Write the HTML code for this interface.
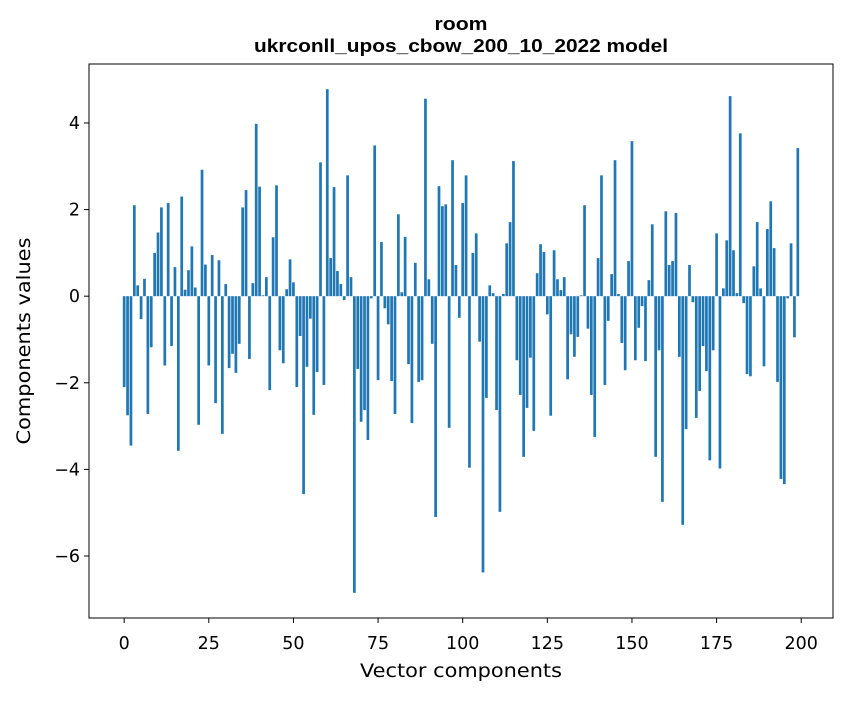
<!DOCTYPE html>
<html><head><meta charset="utf-8"><style>
body{margin:0;background:#fff;}
svg text{font-family:"DejaVu Sans","Liberation Sans",sans-serif;fill:#000;}
svg text.title{font-family:"Liberation Sans","DejaVu Sans",sans-serif;font-weight:bold;}
</style></head><body>
<svg id="chart" width="847" height="696" xmlns="http://www.w3.org/2000/svg">
<rect width="847" height="696" fill="#fff"/>
<text class="title" x="461" y="30" text-anchor="middle" font-size="18" textLength="53" lengthAdjust="spacingAndGlyphs">room</text>
<text class="title" x="461" y="52" text-anchor="middle" font-size="18" textLength="414" lengthAdjust="spacingAndGlyphs">ukrconll_upos_cbow_200_10_2022 model</text>
<g id="bars"></g>
<g id="axes"></g>
<text x="461" y="677" text-anchor="middle" font-size="19" textLength="202" lengthAdjust="spacingAndGlyphs">Vector components</text>
<text transform="translate(30,341) rotate(-90)" text-anchor="middle" font-size="19" textLength="207" lengthAdjust="spacingAndGlyphs">Components values</text>
</svg>
<script>
const values = [-2.1,-2.75,-3.45,2.1,0.25,-0.53,0.4,-2.72,-1.18,1.0,1.47,2.05,-1.6,2.15,-1.15,0.67,-3.57,2.3,0.15,0.6,
1.15,0.2,-2.97,2.92,0.73,-1.6,0.95,-2.47,0.83,-3.18,0.28,-1.66,-1.33,-1.77,-1.1,2.05,2.45,-1.45,0.3,3.98,
2.53,0.02,0.44,-2.17,1.36,2.56,-1.25,-1.55,0.16,0.85,0.32,-2.1,-0.92,-4.57,-1.63,-0.52,-2.74,-1.75,3.09,-2.05,
4.78,0.88,2.52,0.58,0.28,-0.09,2.79,0.44,-6.85,-1.68,-2.9,-2.63,-3.32,-0.05,3.48,-1.94,1.25,-0.28,-0.65,-1.96,
-2.72,1.89,0.09,1.37,-1.57,-2.93,0.77,-1.98,-1.94,4.56,0.39,-1.1,-5.1,2.54,2.08,2.12,-3.04,3.14,0.72,-0.5,
2.15,2.79,-3.96,1.0,1.45,-1.05,-6.38,-2.35,0.25,0.07,-2.63,-4.98,0.05,1.22,1.71,3.12,-1.48,-2.28,-3.71,-2.58,
-1.42,-3.11,0.53,1.2,1.02,-0.42,-2.76,1.06,0.39,0.14,0.44,-1.92,-0.88,-1.4,-0.94,0.02,2.1,-0.75,-2.28,-3.25,
0.88,2.79,-2.05,-0.57,0.51,3.14,0.05,-1.08,-1.71,0.81,3.58,-1.48,-0.73,-0.23,-1.5,0.37,1.66,-3.71,-1.25,-4.75,
1.96,0.72,0.81,1.92,-1.4,-5.28,-3.07,0.72,-0.14,-2.81,-2.19,-1.15,-1.73,-3.79,-1.25,1.45,-3.98,0.18,1.29,4.62,
1.06,0.07,3.76,-0.16,-1.8,-1.85,0.69,1.71,0.18,-1.62,1.55,2.19,1.11,-1.98,-4.22,-4.34,-0.05,1.22,-0.95,3.42];
const xTicks = [0,25,50,75,100,125,150,175,200];
const yTicks = [-6,-4,-2,0,2,4];

const L=89,T=64,R=833,B=618;
const n=values.length;
const xmin=-0.4-0.05*(n-0.2), xmax=(n-1)+0.4+0.05*(n-0.2);
const vmin=Math.min(0,...values), vmax=Math.max(0,...values);
const ymin=vmin-0.05*(vmax-vmin), ymax=vmax+0.05*(vmax-vmin);
const xs=v=>L+(v-xmin)/(xmax-xmin)*(R-L);
const ys=v=>B-(v-ymin)/(ymax-ymin)*(B-T);
const NS="http://www.w3.org/2000/svg";
const bars=document.getElementById('bars');
values.forEach((v,i)=>{
  const r=document.createElementNS(NS,'rect');
  const x0=xs(i-0.4), x1=xs(i+0.4);
  const y0=ys(Math.max(v,0)), y1=ys(Math.min(v,0));
  r.setAttribute('x',x0);r.setAttribute('width',x1-x0);
  r.setAttribute('y',y0);r.setAttribute('height',Math.max(y1-y0,0.01));
  r.setAttribute('fill','#1f77b4');
  
  
  bars.appendChild(r);
});
const axes=document.getElementById('axes');
const frame=document.createElementNS(NS,'rect');
frame.setAttribute('x',L);frame.setAttribute('y',T);frame.setAttribute('width',R-L);frame.setAttribute('height',B-T);
frame.setAttribute('fill','none');frame.setAttribute('stroke','#000');frame.setAttribute('stroke-width','1');


axes.appendChild(frame);
const fmt=v=>(v<0?'\u2212'+Math.abs(v):String(v));
xTicks.forEach(t=>{
  const x=xs(t);
  const l=document.createElementNS(NS,'line');
  l.setAttribute('x1',x);l.setAttribute('x2',x);l.setAttribute('y1',B);l.setAttribute('y2',B+5);l.setAttribute('stroke','#000');
  
  
  axes.appendChild(l);
  const tx=document.createElementNS(NS,'text');
  tx.setAttribute('x',x);tx.setAttribute('y',B+31);tx.setAttribute('text-anchor','middle');tx.setAttribute('font-size','17.5');
  tx.textContent=fmt(t);
  
  
  axes.appendChild(tx);
});
yTicks.forEach(t=>{
  const y=ys(t);
  const l=document.createElementNS(NS,'line');
  l.setAttribute('x1',L-5);l.setAttribute('x2',L);l.setAttribute('y1',y);l.setAttribute('y2',y);l.setAttribute('stroke','#000');
  
  
  axes.appendChild(l);
  const tx=document.createElementNS(NS,'text');
  tx.setAttribute('x',L-9);tx.setAttribute('y',y+6);tx.setAttribute('text-anchor','end');tx.setAttribute('font-size','17.5');
  tx.textContent=fmt(t);
  
  
  axes.appendChild(tx);
});
</script>
</body></html>
